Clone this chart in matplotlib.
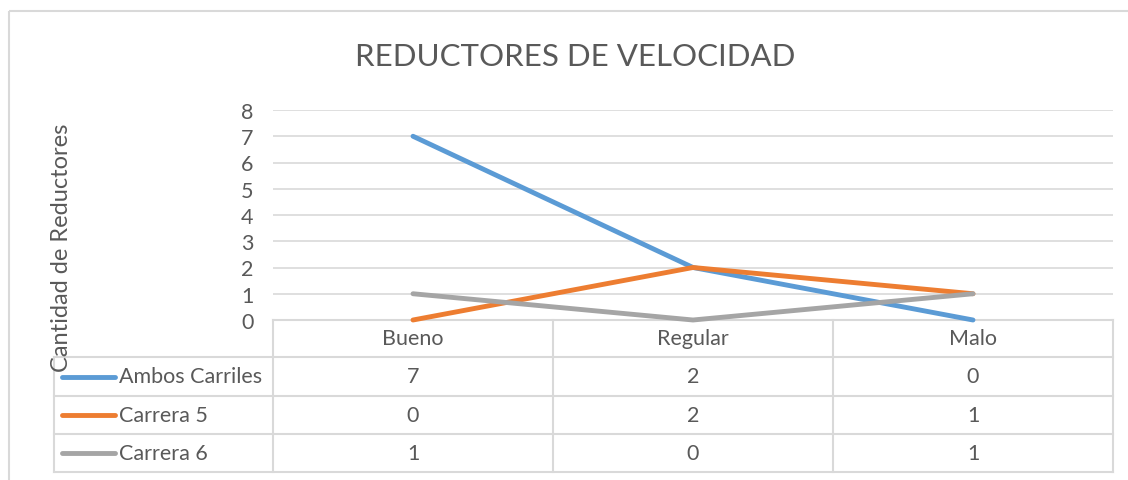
import matplotlib
matplotlib.use('Agg')
import matplotlib.pyplot as plt
from matplotlib.transforms import blended_transform_factory
from matplotlib.patches import Rectangle

plt.rcParams['font.family'] = ['Lato', 'DejaVu Sans']

# data
categories = ['Bueno', 'Regular', 'Malo']
series_names = ['Ambos Carriles', 'Carrera 5', 'Carrera 6']
ambos = [7, 2, 0]
carrera5 = [0, 2, 1]
carrera6 = [1, 0, 1]
series_values = [ambos, carrera5, carrera6]
colors = ['#5B9BD5', '#ED7D31', '#A5A5A5']
y_ticks = [0, 1, 2, 3, 4, 5, 6, 7, 8]

W, H = 1128, 481
txt = '#595959'
grid = '#D9D9D9'
fs = 15.5

fig = plt.figure(figsize=(W / 100, H / 100), dpi=100, facecolor='white')

# plot area (pixel layout)
px_left, px_right, px_top, px_bottom = 273, 1113, 111, 321
ax = fig.add_axes([px_left / W, 1 - px_bottom / H, (px_right - px_left) / W, (px_bottom - px_top) / H])
x = list(range(len(categories)))
for vals, c in zip(series_values, colors):
    ax.plot(x, vals, color=c, linewidth=3.5, solid_capstyle='round', zorder=3, clip_on=False)
ax.set_xlim(-0.5, len(categories) - 0.5)
ax.set_ylim(0, 8)
ax.set_yticks(y_ticks)
ax.set_yticklabels([str(t) for t in y_ticks], fontsize=fs, color=txt)
ax.tick_params(axis='y', length=0, pad=14)
ax.set_xticks([])
for s in ax.spines.values():
    s.set_visible(False)
ax.grid(axis='y', color=grid, linewidth=1.2)
ax.set_axisbelow(True)
ax.set_zorder(6)
ax.patch.set_alpha(0)

# overlay in pixel coordinates for table, title, border
ov = fig.add_axes([0, 0, 1, 1], zorder=-1)
ov.set_xlim(0, W)
ov.set_ylim(H, 0)
ov.axis('off')
ov2 = fig.add_axes([0, 0, 1, 1], zorder=5)
ov2.set_xlim(0, W)
ov2.set_ylim(H, 0)
ov2.axis('off')
ov2.patch.set_alpha(0)

ov.add_patch(Rectangle((9, 12), W + 20, H + 20, fill=False, edgecolor=grid, linewidth=1.5))
ov2.text(575, 57, 'REDUCTORES DE VELOCIDAD', fontsize=22.5, color=txt, ha='center', va='center')
ov2.text(61, 248, 'Cantidad de Reductores', fontsize=17, color=txt, ha='center', va='center',
         rotation=90)

# data table
rows = [321, 358, 397, 435, 473]
tleft = 54
mix = blended_transform_factory(ax.transData, ov2.transData)
lw = 1.5
# horizontal lines
ov2.plot([px_left, px_right], [rows[0], rows[0]], color=grid, lw=lw)
for r in rows[1:]:
    ov2.plot([tleft, px_right], [r, r], color=grid, lw=lw)
# vertical lines
ov2.plot([tleft, tleft], [rows[1], rows[-1]], color=grid, lw=lw)
for i in range(len(categories) + 1):
    ov2.plot([i - 0.5, i - 0.5], [rows[0], rows[-1]], color=grid, lw=lw, transform=mix)
# header
for i, cat in enumerate(categories):
    ov2.text(i, (rows[0] + rows[1]) / 2, cat, fontsize=fs, color=txt, ha='center', va='center',
             transform=mix)
# body
for j, (name, vals, c) in enumerate(zip(series_names, series_values, colors)):
    yc = (rows[j + 1] + rows[j + 2]) / 2
    ov2.plot([62, 115], [yc, yc], color=c, lw=3.5, solid_capstyle='round')
    ov2.text(119, yc, name, fontsize=fs, color=txt, ha='left', va='center')
    for i, v in enumerate(vals):
        ov2.text(i, yc, str(v), fontsize=fs, color=txt, ha='center', va='center', transform=mix)

fig.savefig('out.png', dpi=100, facecolor='white')
